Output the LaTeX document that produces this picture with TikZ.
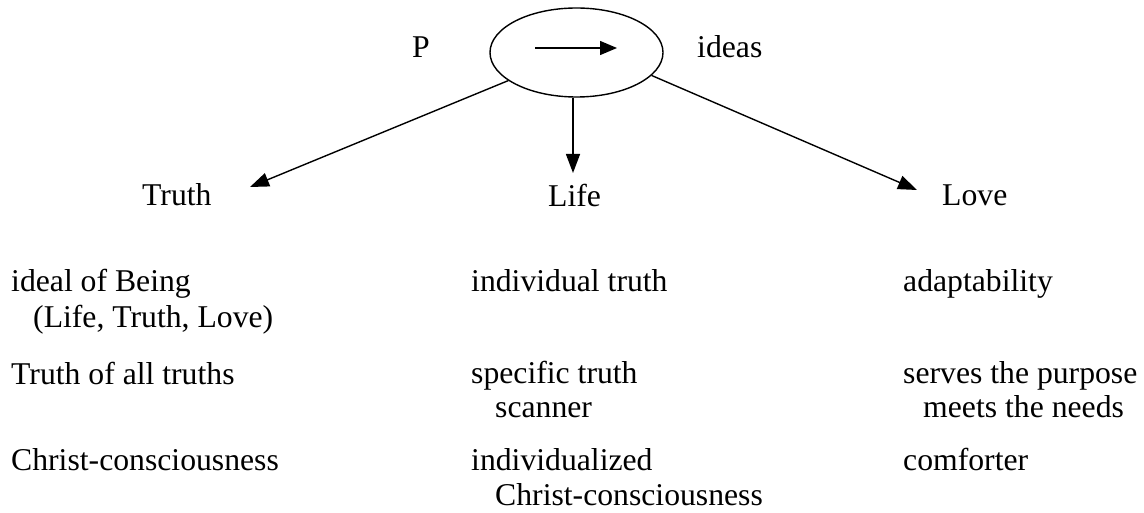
\documentclass[tikz,border=0pt]{standalone}
\usepackage{fontspec}
\setmainfont{Liberation Serif}
\usetikzlibrary{arrows.meta,shapes.geometric}
\tikzstyle{word} = [anchor=base west, inner sep=0pt, color=black]
\tikzstyle{pointer} = [line width=1.4pt, -{Triangle[length=19pt,width=14pt]}]
\tikzset{font={\fontsize{31.7pt}{34.5pt}\selectfont}}

\begin{document}
\begin{tikzpicture}[x=1pt, y=-1pt]
  \useasboundingbox (0,0) rectangle (1144,513);

  % top: the oval with P and ideas
  \node[at={(576.5,52.5)}, draw, line width=1.4pt, ellipse, minimum width=173pt,
        minimum height=89pt, inner sep=0pt] (oval) {};
  \coordinate (inL) at (535,48);
  \coordinate (inR) at (617,48);
  \draw[line width=1.4pt, -{Triangle[length=17pt,width=14pt]}] (inL) -- (inR);
  \node[at={(412,58)}, word] (P) {P};
  \node[at={(697,58)}, word] (ideas) {ideas};

  % the three arrows
  \coordinate (tTruth) at (250,187);
  \coordinate (tLife) at (573,173);
  \coordinate (tLove) at (917,190);
  \draw[pointer] (oval) -- (tTruth);
  \draw[pointer] (oval.south -| tLife) -- (tLife);
  \draw[pointer] (oval.-17) -- (tLove);
  \node[at={(142,206)}, word] (truth) {Truth};
  \node[at={(548,207)}, word] (life) {Life};
  \node[at={(942,206)}, word] (love) {Love};

  % left column
  \node[at={(11,292)}, word] (idealA) {ideal of Being};
  \node[at={(33,327)}, word] (idealB) {(Life, Truth, Love)};
  \node[at={(11,384)}, word] (allA) {Truth of all truths};
  \node[at={(11,470)}, word] (christA) {Christ-consciousness};

  % middle column
  \node[at={(471,292)}, word] (indivA) {individual truth};
  \node[at={(471,383)}, word] (specA) {specific truth};
  \node[at={(495,417)}, word] (specB) {scanner};
  \node[at={(471,470)}, word] (christB) {individualized};
  \node[at={(495,505)}, word] (christC) {Christ-consciousness};

  % right column
  \node[at={(903,291)}, word] (adaptA) {adaptability};
  \node[at={(903,383)}, word] (servA) {serves the purpose};
  \node[at={(923,417)}, word] (servB) {meets the needs};
  \node[at={(903,470)}, word] (comfA) {comforter};

\end{tikzpicture}
\end{document}
